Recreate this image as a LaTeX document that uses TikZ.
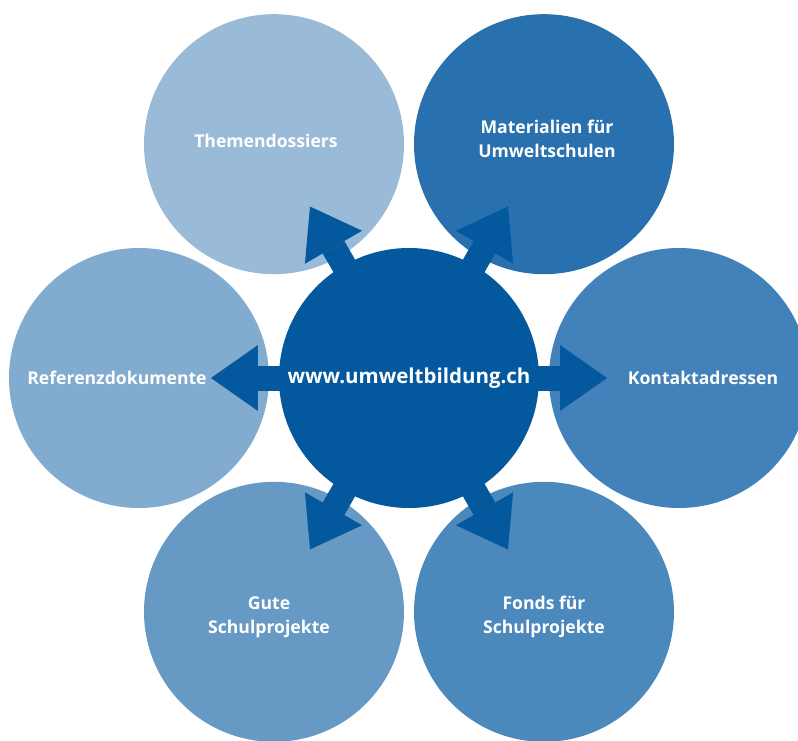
\documentclass[tikz,border=0pt]{standalone}
\usepackage{fontspec}
\setmainfont{Open Sans}
\usetikzlibrary{arrows.meta,positioning}

\definecolor{hubblue}{HTML}{04589E}
\definecolor{themenblue}{HTML}{9ABBD8}
\definecolor{materialblue}{HTML}{2870AE}
\definecolor{referenzblue}{HTML}{81ABCF}
\definecolor{kontaktblue}{HTML}{4281B9}
\definecolor{guteblue}{HTML}{669AC5}
\definecolor{fondsblue}{HTML}{4B89BC}

\begin{document}
\begin{tikzpicture}[
    bubble/.style={circle, minimum size=260pt, inner sep=0pt},
    caption/.style={text=white, align=center, font=\bfseries\fontsize{17.6}{24}\selectfont},
    pointer/.style={draw=hubblue, line width=25pt,
        -{Triangle[width=66pt, length=47pt, line width=0pt]},
        shorten <=127pt, shorten >=72pt}
]
\useasboundingbox (-409pt,-362pt) rectangle (389pt,378pt);
\clip (-409pt,-362pt) rectangle (389pt,378pt);

% ring of topics
\node[bubble, fill=themenblue] (themen) at (120:270pt) {};
\node[bubble, fill=materialblue] (material) at (60:270pt) {};
\node[bubble, fill=kontaktblue] (kontakt) at (0:270pt) {};
\node[bubble, fill=fondsblue] (fonds) at (-60:270pt) {};
\node[bubble, fill=guteblue] (gute) at (-120:270pt) {};
\node[bubble, fill=referenzblue] (referenz) at (180:270pt) {};

\node[caption, xshift=-8pt, yshift=3pt] (thementext) at (themen) {Themendossiers};
\node[caption, xshift=3pt, yshift=5pt] (materialtext) at (material) {Materialien für\\Umweltschulen};
\node[caption, xshift=24pt] (kontakttext) at (kontakt) {Kontaktadressen};
\node[caption, yshift=-5pt] (fondstext) at (fonds) {Fonds für\\Schulprojekte};
\node[caption, xshift=-5pt, yshift=-5pt] (gutetext) at (gute) {Gute\\Schulprojekte};
\node[caption, xshift=-22pt] (referenztext) at (referenz) {Referenzdokumente};

% centre
\node[bubble, fill=hubblue] (hub) at (0,0) {};
\node[caption, font=\bfseries\fontsize{20.5}{24}\selectfont] (hubtext) at (hub) {www.umweltbildung.ch};

\foreach \target in {themen, material, kontakt, fonds, gute, referenz}
    \draw[pointer] (hub.center) -- (\target.center);
\end{tikzpicture}
\end{document}
